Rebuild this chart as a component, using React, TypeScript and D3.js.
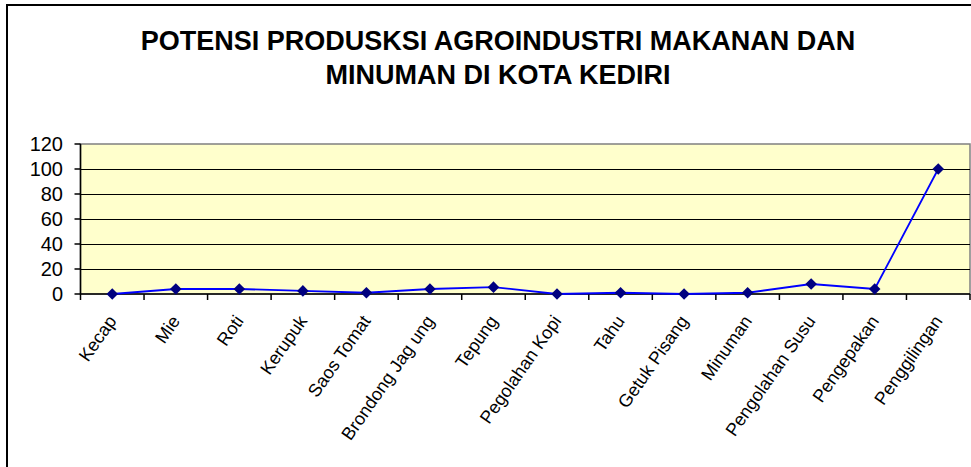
import React from "react";
import * as d3 from "d3";

const categories = [
  "Kecap", "Mie", "Roti", "Kerupuk", "Saos Tomat", "Brondong Jag ung", "Tepung",
  "Pegolahan Kopi", "Tahu", "Getuk Pisang", "Minuman", "Pengolahan Susu", "Pengepakan", "Penggilingan",
];
const values = [0, 4, 4, 2.5, 1, 4, 5.5, 0, 1, 0, 1, 8, 4, 100];
const yTicks = [0, 20, 40, 60, 80, 100, 120];
const titleLines = ["POTENSI PRODUSKSI AGROINDUSTRI MAKANAN DAN", "MINUMAN DI KOTA KEDIRI"];

const W = 971, H = 467;
const plot = { left: 80.5, right: 970, top: 144, bottom: 294 };

export default function App() {
  const x = d3.scaleBand<string>().domain(categories).range([plot.left, plot.right]);
  const y = d3.scaleLinear().domain([0, 120]).range([plot.bottom, plot.top]);
  const line = d3.line<number>()
    .x((_, i) => (x(categories[i]) as number) + x.bandwidth() / 2)
    .y((d) => y(d));
  const diamond = d3.symbol().type(d3.symbolDiamond2).size(85)();
  const font = "'Liberation Sans', Arial, sans-serif";
  return (
    <svg width={W} height={H} style={{ position: "absolute", left: 0, top: 0, background: "#fff" }}>
      <rect x={7} y={5} width={1100} height={600} fill="#fff" stroke="#000" strokeWidth={2} />
      {titleLines.map((t, i) => (
        <text key={i} x={498} y={50 + i * 34} textAnchor="middle" fontFamily={font}
          fontWeight="bold" fontSize={27} fill="#000">{t}</text>
      ))}
      <rect x={plot.left} y={plot.top} width={plot.right - plot.left} height={plot.bottom - plot.top}
        fill="#FFFFCC" stroke="#808080" strokeWidth={1.5} />
      {yTicks.filter((t) => t > 0 && t < 120).map((t) => (
        <line key={t} x1={plot.left} x2={plot.right} y1={Math.round(y(t)) + 0.5} y2={Math.round(y(t)) + 0.5}
          stroke="#000" strokeWidth={1} />
      ))}
      <line x1={plot.left} x2={plot.left} y1={plot.top} y2={plot.bottom} stroke="#000" strokeWidth={1.5} />
      <line x1={plot.left} x2={plot.right} y1={plot.bottom} y2={plot.bottom} stroke="#000" strokeWidth={1.5} />
      {yTicks.map((t) => (
        <g key={t}>
          <line x1={plot.left - 6} x2={plot.left} y1={y(t)} y2={y(t)} stroke="#000" strokeWidth={1.5} />
          <text x={63} y={y(t) + 7} textAnchor="end" fontFamily={font} fontSize={20} fill="#000">{t}</text>
        </g>
      ))}
      {categories.map((c, i) => (
        <line key={"t" + i} x1={(x(c) as number)} x2={(x(c) as number)} y1={plot.bottom} y2={plot.bottom + 6}
          stroke="#000" strokeWidth={1.5} />
      ))}
      <line x1={plot.right} x2={plot.right} y1={plot.bottom} y2={plot.bottom + 6} stroke="#000" strokeWidth={1.5} />
      {categories.map((c, i) => {
        const cx = (x(c) as number) + x.bandwidth() / 2;
        return (
          <text key={"l" + i} transform={`translate(${cx + 5},${plot.bottom + 27}) rotate(-55)`}
            textAnchor="end" fontFamily={font} fontSize={18} fill="#000">{c}</text>
        );
      })}
      <path d={line(values) || ""} fill="none" stroke="#0000FF" strokeWidth={1.8} />
      {values.map((v, i) => (
        <path key={"m" + i} d={diamond || ""} fill="#000080"
          transform={`translate(${(x(categories[i]) as number) + x.bandwidth() / 2},${y(v)})`} />
      ))}
    </svg>
  );
}
